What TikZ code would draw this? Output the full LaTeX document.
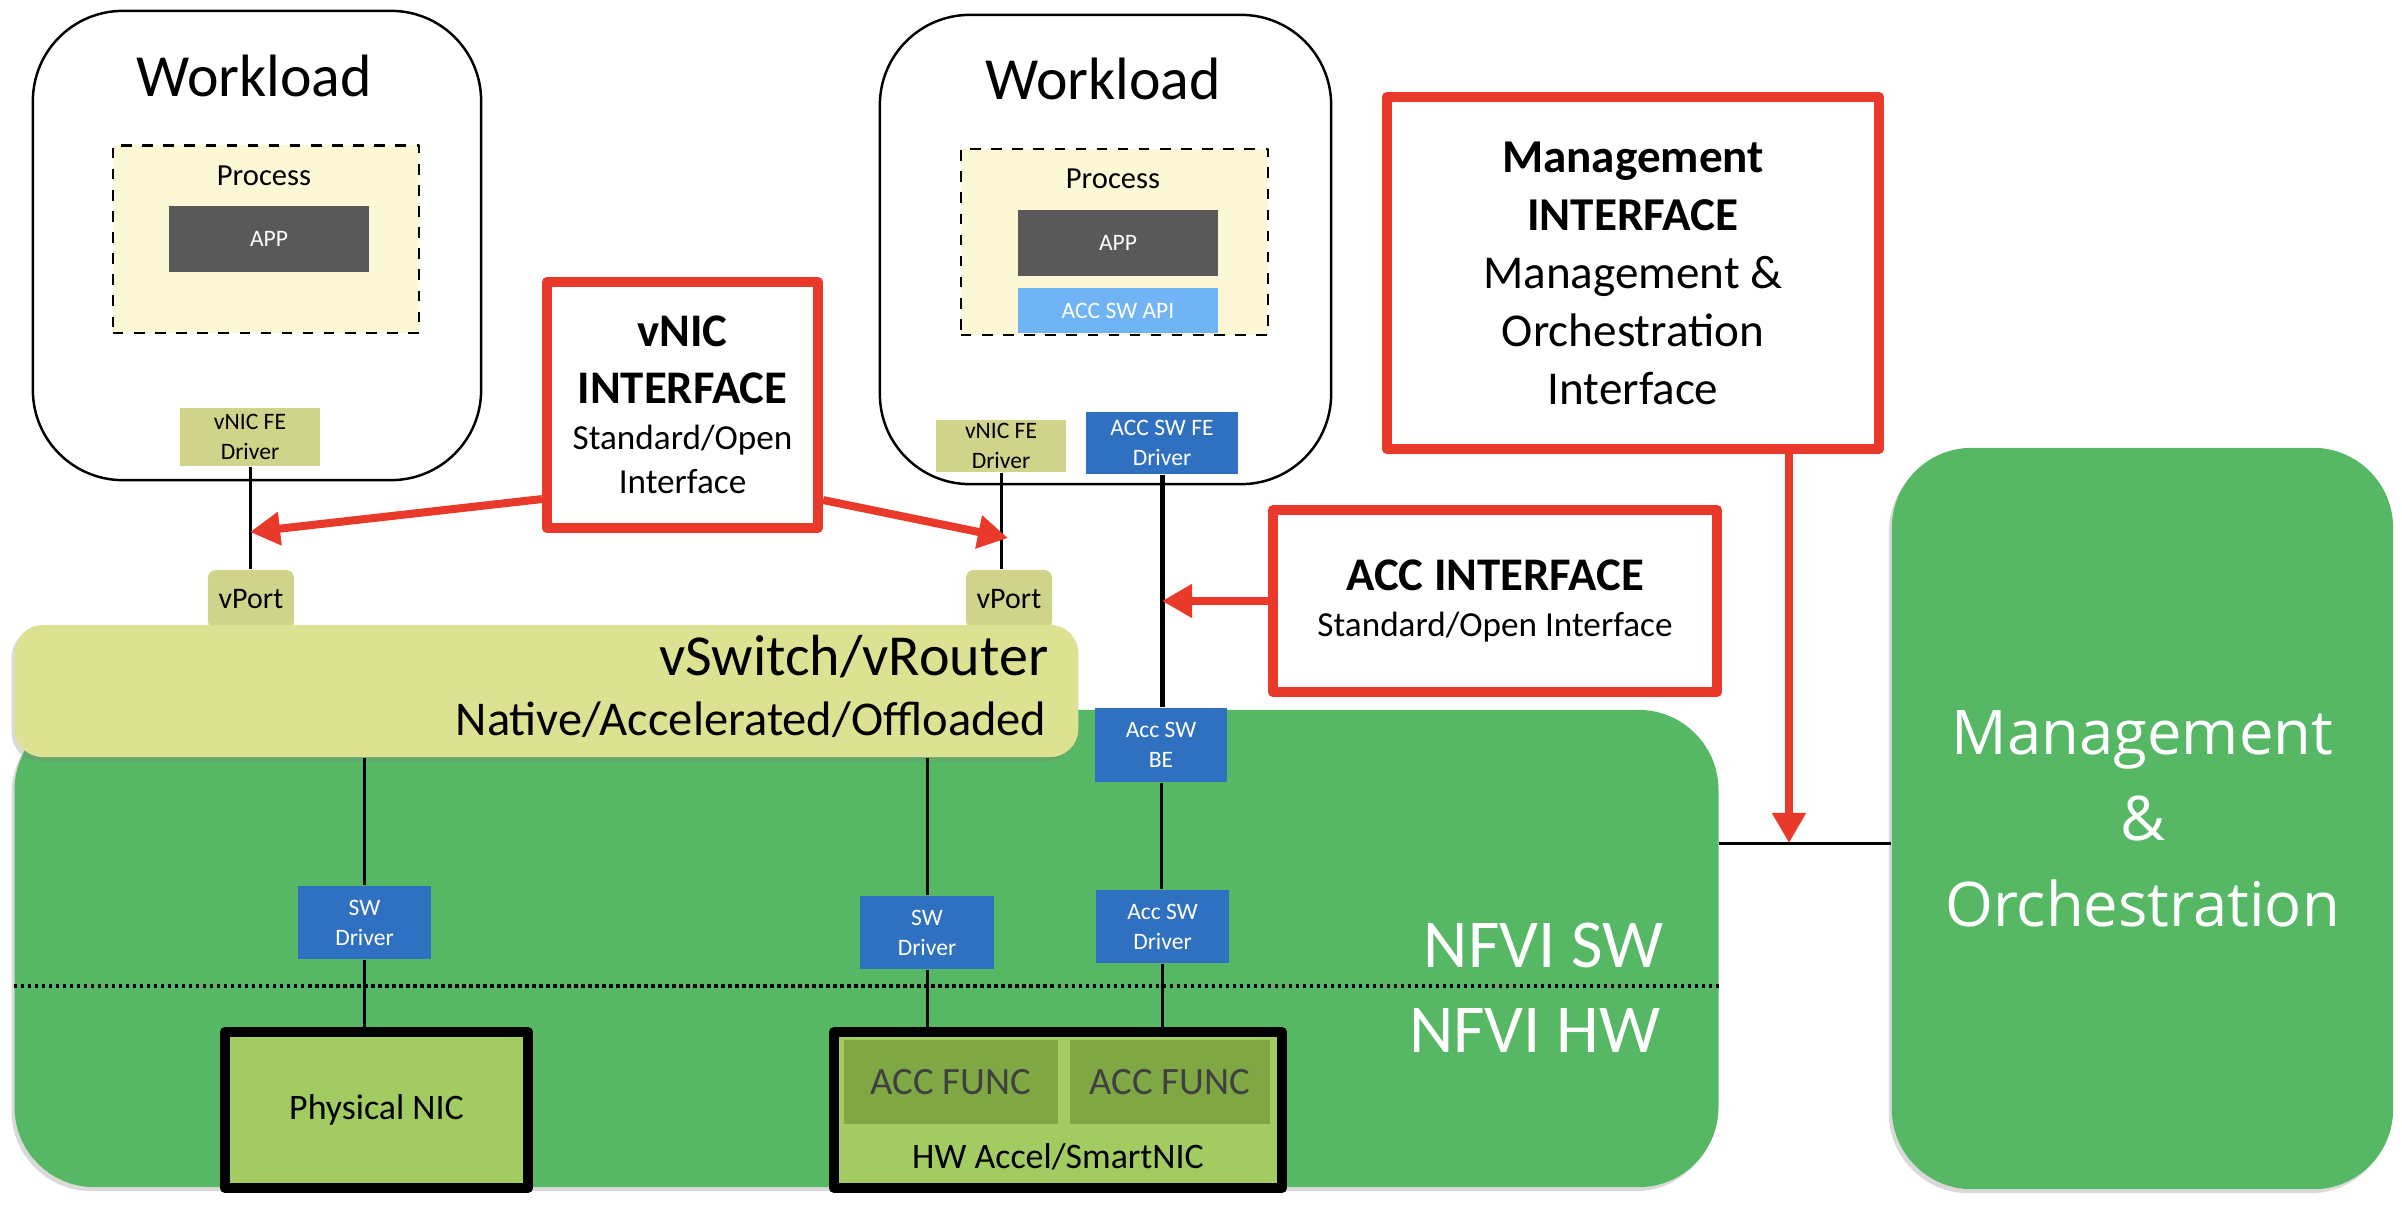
\documentclass[tikz,border=0pt]{standalone}
\usepackage{fontspec}
\setmainfont{Carlito}
\newfontfamily\orchfont{Open Sans}
\usetikzlibrary{arrows.meta,shadows}

\definecolor{nfvigreen}{RGB}{86,184,100}
\definecolor{swyellow}{RGB}{221,226,146}
\definecolor{portolive}{RGB}{208,212,138}
\definecolor{procyellow}{RGB}{252,247,212}
\definecolor{appgray}{RGB}{89,89,89}
\definecolor{apiblue}{RGB}{112,180,245}
\definecolor{drvblue}{RGB}{47,112,192}
\definecolor{nicgreen}{RGB}{162,203,98}
\definecolor{funcgreen}{RGB}{127,168,69}
\definecolor{funcgray}{RGB}{64,64,64}
\definecolor{ifred}{RGB}{232,57,42}

\newcommand{\fsz}[2]{\fontsize{#1}{#2}\selectfont}

\begin{document}
\begin{tikzpicture}[x=0.01cm,y=-0.01cm,line join=round,
  wload/.style={draw,line width=0.7pt,fill=white,rounded corners=0.9cm,minimum width=4.48cm,minimum height=4.69cm,inner sep=0pt},
  proc/.style={draw,dashed,line width=0.6pt,fill=procyellow,minimum width=3.06cm,minimum height=1.87cm,inner sep=0pt},
  small/.style={font=\fsz{6.7}{8.5},align=center,inner sep=0pt},
  appbox/.style={small,fill=appgray,text=white,minimum width=2cm,minimum height=0.66cm},
  drv/.style={small,fill=drvblue,text=white,minimum width=1.33cm,minimum height=0.73cm},
  fedrv/.style={small,fill=portolive,minimum width=1.35cm,minimum height=0.56cm},
  vport/.style={fill=portolive,rounded corners=0.08cm,font=\fsz{8.5}{10},minimum width=0.86cm,minimum height=0.59cm,inner sep=0pt},
  ifbox/.style={draw=ifred,line width=0.1cm,fill=white,align=center,inner sep=0pt},
  nic/.style={draw,line width=0.1cm,fill=nicgreen,minimum height=1.56cm,inner sep=0pt},
  accfunc/.style={fill=funcgreen,text=funcgray,font=\fsz{11}{13},minimum height=0.84cm,inner sep=0pt},
  label/.style={inner sep=0pt},
  link/.style={line width=0.03cm},
  redarrow/.style={ifred,line width=0.08cm,-{Triangle[length=0.3cm,width=0.32cm]}},
  shade/.style={drop shadow={shadow xshift=-0.03cm,shadow yshift=-0.04cm,opacity=0.3}}]
  \useasboundingbox (0,0) rectangle (2402,1206);

  % NFVI and MANO blocks
  \node[shade,fill=nfvigreen,rounded corners=0.8cm,minimum width=17.03cm,minimum height=4.77cm] (nfvi) at (866.5,948.5) {};
  \node[shade,fill=nfvigreen,rounded corners=0.8cm,minimum width=5.01cm,minimum height=7.41cm,inner sep=0pt,
        text=white,align=center,font=\orchfont\fsz{17.5}{24.5}] (orch) at (2142.5,818.5) {Management\\\&\\Orchestration};
  \coordinate (dots) at (0,986);
  \draw[line width=0.04cm,dash pattern=on 0.035cm off 0.035cm] (nfvi.west |- dots) -- (nfvi.east |- dots);
  \node[label,anchor=base east,text=white,font=\fsz{19.5}{22}] (nfvisw) at (1664,967) {NFVI SW};
  \node[label,anchor=base east,text=white,font=\fsz{19.5}{22}] (nfvihw) at (1661,1052) {NFVI HW};

  % vports and vswitch
  \node[vport] (vport1) at (251,599.5) {vPort};
  \node[vport] (vport2) at (1009,599.5) {vPort};
  \node[shade,fill=swyellow,rounded corners=0.28cm,minimum width=10.63cm,minimum height=1.32cm] (vswitch) at (546.5,691) {};
  \node[label,anchor=base east,font=\fsz{16.5}{19}] (vswt) at (1049,675) {vSwitch/vRouter};
  \node[label,anchor=base east,font=\fsz{13.8}{16}] (vswn) at (1047,735) {Native/Accelerated/Offloaded};

  % workloads
  \node[wload] (wl1) at (257,245.5) {};
  \node[label,anchor=base,font=\fsz{17}{20}] (wl1t) at (254,97) {Workload};
  \node[proc] (proc1) at (266,239) {};
  \node[label,anchor=base,font=\fsz{8.7}{10}] (proc1t) at (264,185) {Process};
  \node[appbox] (app1) at (269,239) {APP};
  \node[fedrv,minimum width=1.4cm,minimum height=0.58cm] (fe1) at (250,437) {vNIC FE\\Driver};

  \node[wload,minimum width=4.51cm] (wl2) at (1105.5,249.5) {};
  \node[label,anchor=base,font=\fsz{17}{20}] (wl2t) at (1103,99) {Workload};
  \node[proc,minimum width=3.07cm,minimum height=1.86cm] (proc2) at (1114.5,242) {};
  \node[label,anchor=base,font=\fsz{8.7}{10}] (proc2t) at (1113,188) {Process};
  \node[appbox] (app2) at (1118,243) {APP};
  \node[small,fill=apiblue,text=white,minimum width=2cm,minimum height=0.45cm] (api) at (1118,310.5) {ACC SW API};
  \node[fedrv,minimum width=1.3cm,minimum height=0.52cm] (fe2) at (1001,446) {vNIC FE\\Driver};
  \node[drv,minimum width=1.52cm,minimum height=0.62cm] (accfe) at (1162,443) {ACC SW FE\\Driver};

  % drivers and hardware
  \node[drv] (swd1) at (364.5,922.5) {SW\\Driver};
  \node[drv,minimum width=1.34cm] (swd2) at (927,932.5) {SW\\Driver};
  \node[drv,minimum width=1.32cm,minimum height=0.74cm] (accbe) at (1161,745) {Acc SW\\BE};
  \node[drv] (accdrv) at (1162.5,926.5) {Acc SW\\Driver};
  \node[nic,minimum width=3.03cm,font=\fsz{10.2}{12}] (pnic) at (376.5,1110) {Physical NIC};
  \node[nic,minimum width=4.48cm] (hwacc) at (1058,1110) {};
  \node[accfunc,minimum width=2.14cm] (func1) at (951,1082) {ACC FUNC};
  \node[accfunc,minimum width=2cm] (func2) at (1170,1082) {ACC FUNC};
  \node[label,anchor=base,font=\fsz{10.2}{12}] (hwacct) at (1058,1168) {HW Accel/SmartNIC};

  % links
  \draw[link] (fe1.south) -- (fe1.south |- vport1.north);
  \draw[link] (fe2.south) -- (fe2.south |- vport2.north);
  \draw[line width=0.05cm] (accfe.south) -- (accfe.south |- accbe.north);
  \draw[link] (swd1.north |- vswitch.south) -- (swd1.north);
  \draw[link] (swd1.south) -- (swd1.south |- pnic.north);
  \draw[link] (swd2.north |- vswitch.south) -- (swd2.north);
  \draw[link] (swd2.south) -- (swd2.south |- hwacc.north);
  \draw[link] (accbe.south) -- (accbe.south |- accdrv.north);
  \draw[link] (accdrv.south) -- (accdrv.south |- hwacc.north);
  \coordinate (mo) at (1789,843);
  \draw[link] (nfvi.east |- mo) -- (orch.west |- mo);

  % interface boxes
  \node[ifbox,minimum width=2.71cm,minimum height=2.46cm,font=\fsz{10}{12.5}] (vnicif) at (682.5,405)
    {\fsz{13.3}{12.5}\bfseries vNIC\\[3.7pt]\fsz{13.3}{12.5}\bfseries INTERFACE\\[0.6pt]Standard/Open\\Interface};
  \node[ifbox,minimum width=4.92cm,minimum height=3.52cm,font=\fsz{13.4}{16.5}] (mgmtif) at (1633,273)
    {\bfseries Management\\\bfseries INTERFACE\\Management \&\\Orchestration\\Interface};
  \node[ifbox,minimum width=4.44cm,minimum height=1.82cm,font=\fsz{10}{13.3}] (accif) at (1495,601)
    {\fsz{13.3}{13.3}\bfseries ACC INTERFACE\\Standard/Open Interface};

  \coordinate (tip1) at (250,532);
  \coordinate (tip2) at (1008,538);
  \draw[redarrow] ([yshift=-0.94cm]vnicif.west) -- (tip1);
  \draw[redarrow] ([yshift=-0.95cm]vnicif.east) -- (tip2);
  \draw[redarrow] (accif.west) -- (accfe.south |- accif.west);
  \draw[redarrow] (mgmtif.south -| mo) -- (mo);
\end{tikzpicture}
\end{document}
